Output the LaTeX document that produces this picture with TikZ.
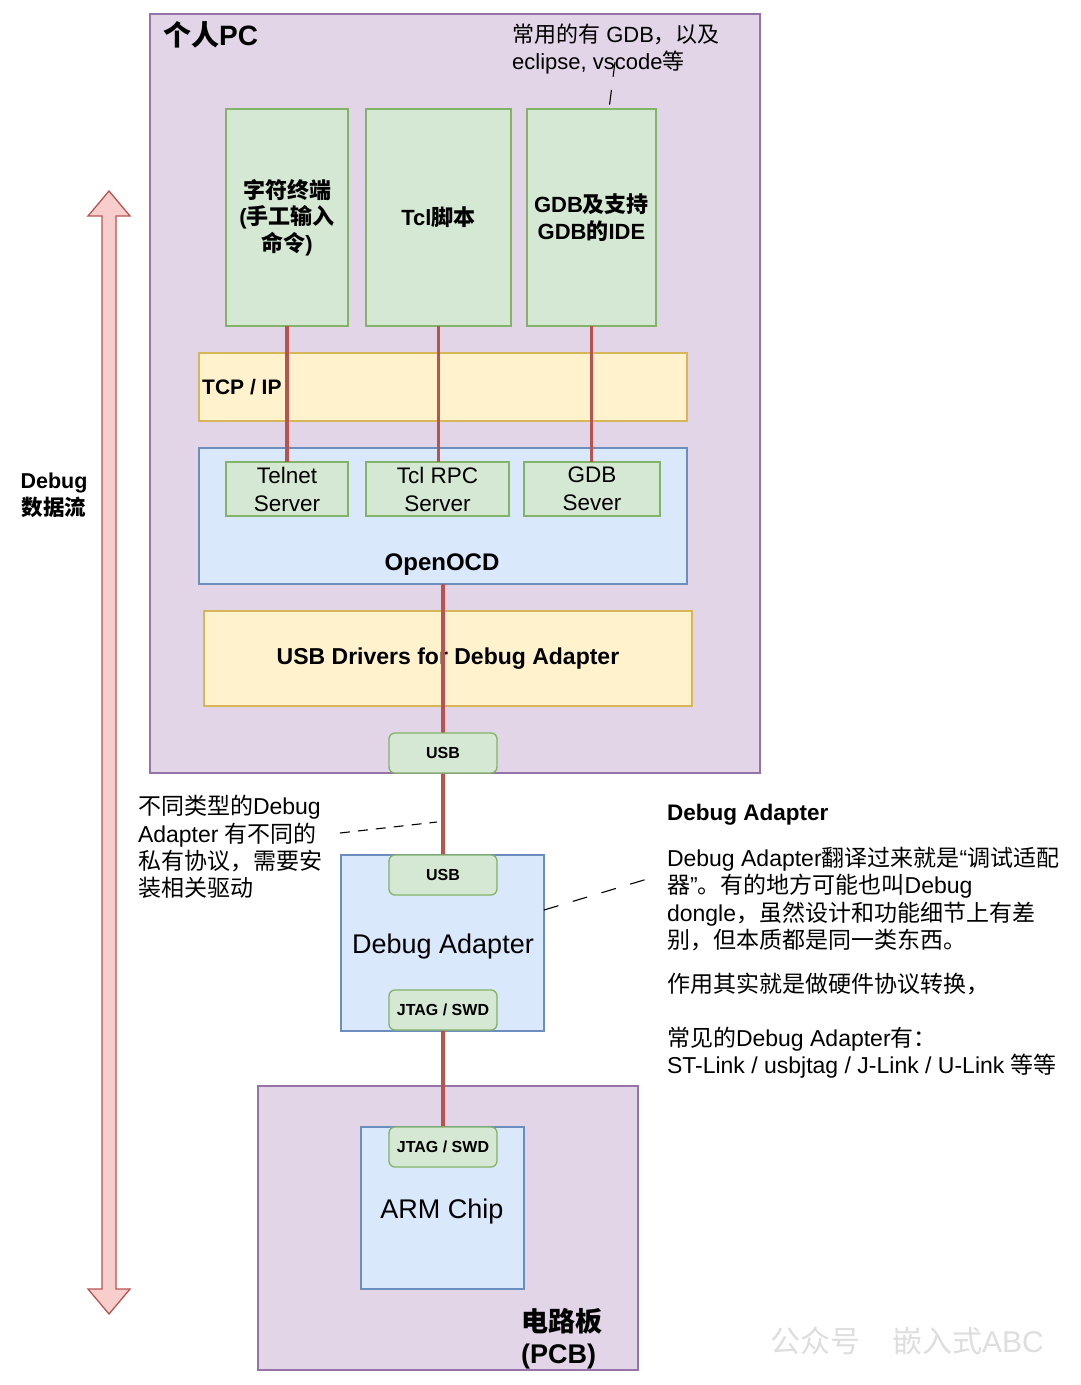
\documentclass[tikz,border=0pt]{standalone}
\usepackage{fontspec}
\setmainfont{Liberation Sans}
\newfontfamily\cjk{Noto Sans CJK SC}
\newcommand\zh[1]{{\cjk #1}}
\definecolor{pcfill}{HTML}{E1D5E7}\definecolor{pcdraw}{HTML}{9673A6}
\definecolor{gfill}{HTML}{D5E8D4}\definecolor{gdraw}{HTML}{82B366}
\definecolor{yfill}{HTML}{FFF2CC}\definecolor{ydraw}{HTML}{D6B656}
\definecolor{bfill}{HTML}{DAE8FC}\definecolor{bdraw}{HTML}{6C8EBF}
\definecolor{rfill}{HTML}{F8CECC}\definecolor{rdraw}{HTML}{B85450}
\pgfdeclarelayer{boxes}
\pgfsetlayers{boxes,main}
\begin{document}
\begin{tikzpicture}[x=1pt,y=-1pt,
  box/.style={draw, line width=1.3pt, inner sep=0pt, outer sep=0pt, align=center},
  purplebox/.style={box, fill=pcfill, draw=pcdraw},
  greenbox/.style={box, fill=gfill, draw=gdraw},
  yellowbox/.style={box, fill=yfill, draw=ydraw},
  bluebox/.style={box, fill=bfill, draw=bdraw},
  portbox/.style={greenbox, rounded corners=6pt, minimum width=108pt, minimum height=40pt, font=\fontsize{16}{19}\selectfont\bfseries},
  link/.style={draw=rdraw, line width=3.6pt},
  note/.style={draw=black, line width=1.1pt},
  tx/.style={inner sep=0pt, outer sep=0pt, align=left, font=\fontsize{23}{27.3}\selectfont},
  txb/.style={inner sep=0pt, outer sep=0pt, align=center, font=\fontsize{21.5}{27}\selectfont\bfseries},
]
\useasboundingbox (0,0) rectangle (1080,1385);
\begin{pgfonlayer}{boxes}
\fill[white] (0,0) rectangle (1080,1385);

% Debug data flow arrow
\filldraw[fill=rfill, draw=rdraw, line width=1.3pt]
  (109,191) -- (130,216) -- (116,216) -- (116,1289) -- (130,1289) -- (109,1314)
  -- (88,1289) -- (102,1289) -- (102,216) -- (88,216) -- cycle;

% PC
\node[purplebox, minimum width=610pt, minimum height=759pt] (pc) at (455,393.5) {};
\node[greenbox, minimum width=122pt, minimum height=217pt, font=\fontsize{22}{26.5}\selectfont\bfseries] (term) at (287,217.5) {\zh{字符终端}\\(\zh{手工输入}\\\zh{命令})};
\node[greenbox, minimum width=145pt, minimum height=217pt, font=\fontsize{22}{27}\selectfont\bfseries] (tcl) at (438.5,217.5) {Tcl\zh{脚本}};
\node[greenbox, minimum width=129pt, minimum height=217pt, font=\fontsize{22}{27}\selectfont\bfseries] (gdbide) at (591.5,217.5) {GDB\zh{及支持}\\GDB\zh{的}IDE};
\node[yellowbox, minimum width=488pt, minimum height=68pt] (tcpip) at (443,387) {};
\node[bluebox, minimum width=488pt, minimum height=136pt] (openocd) at (443,516) {};
\node[greenbox, minimum width=122pt, minimum height=54pt, font=\fontsize{22.5}{28}\selectfont] (telnet) at (287,489) {Telnet\\Server};
\node[greenbox, minimum width=143pt, minimum height=54pt, font=\fontsize{22.5}{28}\selectfont] (tclrpc) at (437.5,489) {Tcl RPC\\Server};
\node[greenbox, minimum width=136pt, minimum height=54pt, font=\fontsize{22.5}{28}\selectfont] (gdbsrv) at (592,489) {GDB\\Sever};
\node[yellowbox, minimum width=488pt, minimum height=95pt, font=\fontsize{23}{27}\selectfont\bfseries] (usbdrv) at (448,658.5) {USB Drivers for Debug Adapter};
% Debug adapter
\node[bluebox, minimum width=203pt, minimum height=176pt] (da) at (442.5,943) {};
% PCB
\node[purplebox, minimum width=380pt, minimum height=284pt] (pcb) at (448,1228) {};
\node[bluebox, minimum width=163pt, minimum height=162pt] (arm) at (442.5,1208) {};
\end{pgfonlayer}

\node[txb, anchor=center] (flow) at (54,495.5) {Debug\\\zh{数据流}};
\node[inner sep=0pt, anchor=west, font=\fontsize{28}{32}\selectfont\bfseries] (pclabel) at (163,35) {\zh{个人}PC};
\node[inner sep=0pt, align=left, anchor=west, font=\fontsize{22}{27}\selectfont] (ideanno) at (512,48.5) {\zh{常用的有} GDB\zh{，以及}\\eclipse, vscode\zh{等}};
\node[inner sep=0pt, anchor=west, font=\fontsize{21}{27}\selectfont\bfseries] (tcplabel) at (202,387) {TCP / IP};
\node[inner sep=0pt, font=\fontsize{24}{27}\selectfont\bfseries] (ocdlabel) at (442,565) {OpenOCD};
\node[inner sep=0pt, font=\fontsize{27}{30}\selectfont] (dalabel) at (443,947) {Debug Adapter};
\node[inner sep=0pt, font=\fontsize{27}{30}\selectfont] (armlabel) at (442,1212) {ARM Chip};
\node[inner sep=0pt, anchor=west, align=left, font=\fontsize{27}{32}\selectfont\bfseries] (pcblabel) at (521,1339) {\zh{电路板}\\(PCB)};

% ports above links
\node[portbox] (usb1) at (443,753) {USB};
\node[portbox] (usb2) at (443,875) {USB};
\node[portbox] (jtag1) at (443,1010) {JTAG / SWD};
\node[portbox] (jtag2) at (443,1147) {JTAG / SWD};
\coordinate (ocdout) at (443,584);
\begin{pgfonlayer}{boxes}
\draw[link] (term.south) -- (telnet.north);
\draw[link] (tcl.south) -- (tcl.south |- tclrpc.north);
\draw[link] (gdbide.south) -- (gdbide.south |- gdbsrv.north);
\draw[link] (ocdout) -- (usb1.north);
\draw[link] (usb1.south) -- (usb2.north);
\draw[link] (jtag1.south) -- (jtag2.north);
\end{pgfonlayer}

% annotations
\coordinate (ann1) at (615,62);
\coordinate (ann1end) at (609,109);
\draw[note, dash pattern=on 15pt off 13pt] (ann1) -- (ann1end);

\node[tx, anchor=west] (leftnote) at (138,847) {\zh{不同类型的}Debug\\Adapter \zh{有不同的}\\\zh{私有协议，需要安}\\\zh{装相关驱动}};
\coordinate (ln1) at (340,833);
\coordinate (ln2) at (437,822);
\draw[note, dash pattern=on 10pt off 8pt] (ln1) -- (ln2);

\node[inner sep=0pt, anchor=west, font=\fontsize{22.5}{27}\selectfont\bfseries] (datitle) at (667,815) {Debug Adapter};
\node[tx, anchor=west] (dadesc) at (667,899) {Debug Adapter\zh{翻译过来就是}“\zh{调试适配}\\\zh{器}”\zh{。有的地方可能也叫}Debug\\dongle\zh{，虽然设计和功能细节上有差}\\\zh{别，但本质都是同一类东西。}};
\node[tx, anchor=west] (dafunc) at (667,984) {\zh{作用其实就是做硬件协议转换，}};
\node[tx, anchor=west] (dalist) at (667,1053) {\zh{常见的}Debug Adapter\zh{有：}\\ST-Link / usbjtag / J-Link / U-Link \zh{等等}};
\coordinate (rn2) at (654,877);
\draw[note, dash pattern=on 15pt off 15pt] (da.east |- 0,910) -- (rn2);

% watermark
\node[inner sep=0pt, anchor=west, text=black!13, font=\fontsize{30}{32}\selectfont] (wm) at (770,1341) {\zh{公众号}\hspace{32pt}\zh{嵌入式}ABC};
\end{tikzpicture}
\end{document}
